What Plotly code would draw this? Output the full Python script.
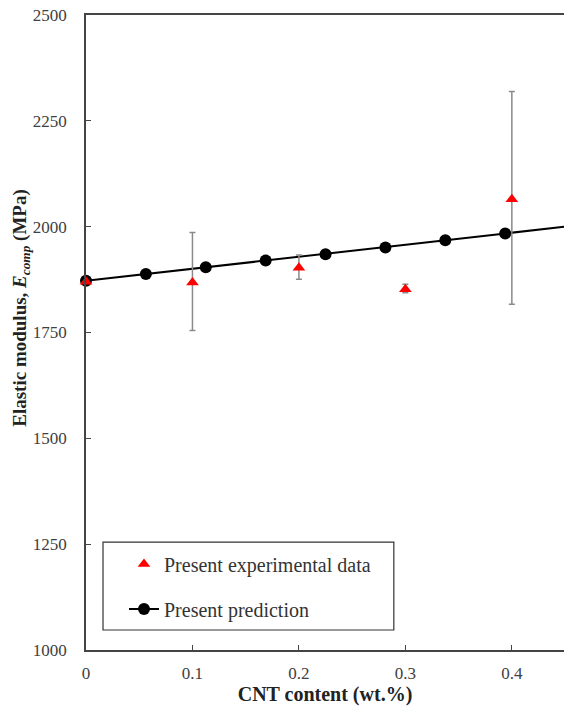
import plotly.graph_objects as go

# Prediction (model) data
pred_x = [0, 0.05625, 0.1125, 0.16875, 0.225, 0.28125, 0.3375, 0.39375, 0.45]
pred_y = [1872, 1888, 1904, 1920, 1935, 1951, 1968, 1984, 2000]

# Experimental data with error bars
exp_x = [0, 0.1, 0.2, 0.3, 0.4]
exp_y = [1870, 1868, 1903, 1852, 2065]
exp_err_plus = [0, 118, 30, 12, 254]
exp_err_minus = [0, 113, 27, 8, 248]

x_ticks = [0, 0.1, 0.2, 0.3, 0.4]
x_tick_text = ["0", "0.1", "0.2", "0.3", "0.4"]
y_ticks = [1000, 1250, 1500, 1750, 2000, 2250, 2500]

FONT = "Liberation Serif, Times New Roman, serif"

fig = go.Figure()
fig.add_trace(go.Scatter(
    x=pred_x, y=pred_y, mode="lines+markers", name="Present prediction",
    line=dict(color="black", width=2),
    marker=dict(symbol="circle", size=12, color="black"),
    legendgroup="b", legendrank=2, cliponaxis=False,
))
fig.add_trace(go.Scatter(
    x=exp_x, y=exp_y, mode="markers",
    name="Present experimental data",
    marker=dict(symbol="triangle-up", size=11, color="red"),
    error_y=dict(type="data", symmetric=False, array=exp_err_plus,
                 arrayminus=exp_err_minus, color="#8a8a8a", thickness=1.5, width=3),
    legendgroup="a", legendrank=1, cliponaxis=False,
))

# legend frame
fig.add_shape(type="rect", xref="paper", yref="paper",
              x0=0.0356, x1=0.644, y0=0.0315, y1=0.170,
              line=dict(color="#333333", width=1.2), fillcolor="rgba(0,0,0,0)")

fig.add_annotation(
    text="<b>Elastic modulus, <i>E</i><sub><i>comp</i></sub> (MPa)</b>",
    xref="paper", yref="paper", x=-0.136, y=0.539, xanchor="center", yanchor="middle",
    textangle=-90, showarrow=False, font=dict(family=FONT, size=19, color="#222"),
)

fig.update_layout(
    width=564, height=706,
    margin=dict(l=86, r=0, t=15, b=56),
    plot_bgcolor="white", paper_bgcolor="white",
    font=dict(family=FONT, size=17, color="#404040"),
    showlegend=True,
    legend=dict(
        x=0.0795, y=0.166, xanchor="left", yanchor="top",
        borderwidth=0, bgcolor="rgba(0,0,0,0)",
        font=dict(family=FONT, size=20, color="#333333"),
        tracegroupgap=16, itemwidth=30,
    ),
    xaxis=dict(
        range=[0, 0.449], tickvals=x_ticks, ticktext=x_tick_text,
        ticks="inside", ticklen=5, tickcolor="#444", tickwidth=1.2,
        showline=True, linecolor="#444", linewidth=1.5, mirror=True,
        showgrid=False, zeroline=False, ticklabelstandoff=7, automargin=False,
        title=dict(text="<b>CNT content (wt.%)</b>", font=dict(family=FONT, size=20, color="#222"), standoff=11),
    ),
    yaxis=dict(
        range=[1000, 2500], tickvals=y_ticks,
        ticks="inside", ticklen=5, tickcolor="#444", tickwidth=1.2,
        showline=True, linecolor="#444", linewidth=1.5, automargin=False,
        showgrid=False, zeroline=False, ticklabelstandoff=14,
    ),
)

fig.write_html("out.html")
